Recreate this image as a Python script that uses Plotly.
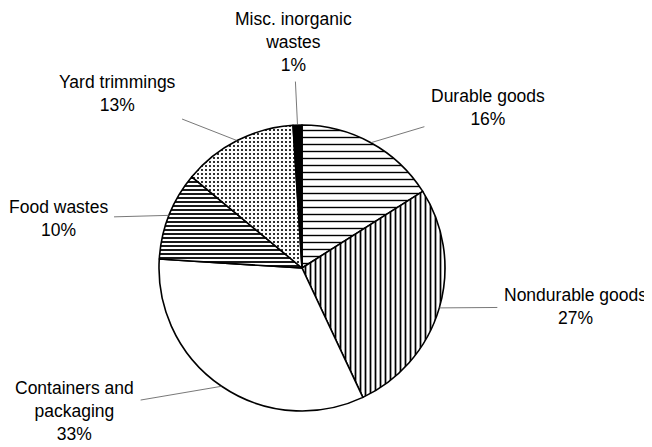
"""Municipal solid waste composition pie, black-and-white patterned style."""

import math

import plotly.graph_objects as go

categories = [
    "Durable goods",
    "Nondurable goods",
    "Containers and<br>packaging",
    "Food wastes",
    "Yard trimmings",
    "Misc. inorganic<br>wastes",
]
shares = [16, 27, 33, 10, 13, 1]

PAD = 8  # default body margin of the html page
W, H = 652 - PAD, 447 - PAD
CX, CY, R = 302 - PAD, 268 - PAD, 143  # pie centre / radius in figure pixels

fill_colors = ["white", "white", "white", "white", "white", "black"]
pattern_shapes = ["-", "|", "", "-", ".", ""]
pattern_sizes = [7, 5, 8, 4, 4, 8]
pattern_solidity = [0.2, 0.35, 0.3, 0.45, 0.22, 0.3]

# label text offset (pixels) from slice edge point
label_offsets = [(117, -35), (136, -1), (-147, 25), (-111, 3), (-120, -47), (-4, -83)]

fig = go.Figure()
fig.add_trace(
    go.Pie(
        labels=categories,
        values=shares,
        sort=False,
        direction="clockwise",
        rotation=0,
        textinfo="none",
        hoverinfo="label+percent",
        showlegend=False,
        domain=dict(
            x=[(CX - R) / W, (CX + R) / W],
            y=[1 - (CY + R) / H, 1 - (CY - R) / H],
        ),
        marker=dict(
            colors=fill_colors,
            line=dict(color="black", width=1.6),
            pattern=dict(
                shape=pattern_shapes,
                size=pattern_sizes,
                solidity=pattern_solidity,
                fgcolor="black",
                bgcolor="white",
                fillmode="replace",
            ),
        ),
    )
)

total = sum(shares)
cum = 0
for name, val, (dx, dy) in zip(categories, shares, label_offsets):
    mid = (cum + val / 2) / total * 2 * math.pi
    cum += val
    px = CX + R * math.sin(mid)
    py = CY - R * math.cos(mid)
    fig.add_annotation(
        x=px / W,
        y=1 - py / H,
        xref="paper",
        yref="paper",
        text=f"{name}<br>{val}%",
        showarrow=True,
        arrowhead=0,
        arrowwidth=0.8,
        arrowcolor="#555555",
        ax=dx,
        ay=dy,
        borderpad=6,
        align="center",
        font=dict(size=17.5, color="black"),
    )

fig.update_layout(
    width=W,
    height=H,
    margin=dict(l=0, r=0, t=0, b=0),
    paper_bgcolor="white",
    plot_bgcolor="white",
    font=dict(family="Arial, Liberation Sans, sans-serif", color="black"),
)

fig.write_html("out.html")
